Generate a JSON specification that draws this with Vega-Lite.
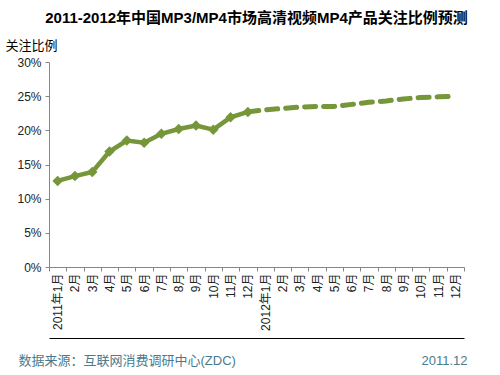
{
  "$schema": "https://vega.github.io/schema/vega-lite/v6.json",
  "width": 415,
  "height": 205,
  "autosize": "none",
  "padding": {"left": 49, "top": 62, "right": 36, "bottom": 108},
  "background": "white",
  "config": {
    "view": {"stroke": null},
    "font": "Liberation Sans, Noto Sans CJK SC"
  },
  "title": {
    "text": "2011-2012年中国MP3/MP4市场高清视频MP4产品关注比例预测",
    "fontSize": 15,
    "fontWeight": "bold",
    "color": "#000000",
    "anchor": "middle",
    "frame": "group",
    "offset": 13
  },
  "data": {
    "values": [
      {"month": "2011年1月", "value": 12.6, "series": "actual"},
      {"month": "2011年2月", "value": 13.3, "series": "actual"},
      {"month": "2011年3月", "value": 13.9, "series": "actual"},
      {"month": "2011年4月", "value": 16.9, "series": "actual"},
      {"month": "2011年5月", "value": 18.5, "series": "actual"},
      {"month": "2011年6月", "value": 18.2, "series": "actual"},
      {"month": "2011年7月", "value": 19.5, "series": "actual"},
      {"month": "2011年8月", "value": 20.2, "series": "actual"},
      {"month": "2011年9月", "value": 20.7, "series": "actual"},
      {"month": "2011年10月", "value": 20.1, "series": "actual"},
      {"month": "2011年11月", "value": 21.9, "series": "actual"},
      {"month": "2011年12月", "value": 22.7, "series": "actual"},
      {"month": "2011年12月", "value": 22.7, "series": "forecast"},
      {"month": "2012年1月", "value": 23.0, "series": "forecast"},
      {"month": "2012年2月", "value": 23.2, "series": "forecast"},
      {"month": "2012年3月", "value": 23.4, "series": "forecast"},
      {"month": "2012年4月", "value": 23.5, "series": "forecast"},
      {"month": "2012年5月", "value": 23.5, "series": "forecast"},
      {"month": "2012年6月", "value": 23.8, "series": "forecast"},
      {"month": "2012年7月", "value": 24.1, "series": "forecast"},
      {"month": "2012年8月", "value": 24.3, "series": "forecast"},
      {"month": "2012年9月", "value": 24.6, "series": "forecast"},
      {"month": "2012年10月", "value": 24.8, "series": "forecast"},
      {"month": "2012年11月", "value": 24.9, "series": "forecast"},
      {"month": "2012年12月", "value": 25.0, "series": "forecast"}
    ]
  },
  "encoding": {
    "y": {
      "field": "value",
      "type": "quantitative",
      "scale": {"domain": [0, 30]},
      "axis": {
        "values": [0, 5, 10, 15, 20, 25, 30],
        "labelExpr": "datum.value + '%'",
        "labelFontSize": 12,
        "labelColor": "#222222",
        "labelPadding": 4,
        "tickSize": 4,
        "tickColor": "#868686",
        "domainColor": "#868686",
        "grid": false,
        "title": "关注比例",
        "titleAngle": 0,
        "titleFontSize": 13,
        "titleFontWeight": "normal",
        "titleColor": "#000000",
        "titleAlign": "left",
        "titleBaseline": "middle",
        "titleX": -44,
        "titleY": -17
      }
    }
  },
  "layer": [
    {
      "transform": [{"filter": "datum.series === 'actual'"}],
      "mark": {
        "type": "line",
        "color": "#76963A",
        "strokeWidth": 4.5,
        "point": {"shape": "diamond", "size": 110, "filled": true, "color": "#76963A"}
      },
      "encoding": {
        "x": {
          "field": "month",
          "type": "ordinal",
          "sort": null,
          "scale": {"type": "band", "paddingInner": 0, "paddingOuter": 0},
          "axis": {
            "orient": "bottom",
            "labelAngle": -90,
            "labelFontSize": 12,
            "labelColor": "#222222",
            "labelPadding": 2,
            "labelExpr": "isString(datum.value) ? (indexof(datum.value, '年1月') > 0 ? datum.value : substring(datum.value, 5)) : ''",
            "tickBand": "extent",
            "tickSize": 4,
            "tickColor": "#868686",
            "domainColor": "#868686",
            "grid": false,
            "title": "数据来源：互联网消费调研中心(ZDC)",
            "titleFontSize": 13,
            "titleFontWeight": "normal",
            "titleColor": "#4A7B8C",
            "titleAlign": "left",
            "titleBaseline": "middle",
            "titleX": -31,
            "titleY": 93
          }
        }
      }
    },
    {
      "transform": [{"filter": "datum.series === 'forecast'"}],
      "mark": {
        "type": "line",
        "color": "#76963A",
        "strokeWidth": 5,
        "strokeDash": [11, 8],
        "strokeCap": "round"
      },
      "encoding": {
        "x": {
          "field": "month",
          "type": "ordinal",
          "sort": null,
          "axis": {
            "orient": "bottom",
            "offset": 71,
            "labels": false,
            "ticks": false,
            "grid": false,
            "domainColor": "#000000",
            "domainWidth": 1,
            "title": "2011.12",
            "titleFontSize": 13,
            "titleFontWeight": "normal",
            "titleColor": "#4A7B8C",
            "titleAlign": "right",
            "titleBaseline": "middle",
            "titleX": 418,
            "titleY": 22
          }
        }
      }
    }
  ],
  "resolve": {"axis": {"x": "independent"}}
}
